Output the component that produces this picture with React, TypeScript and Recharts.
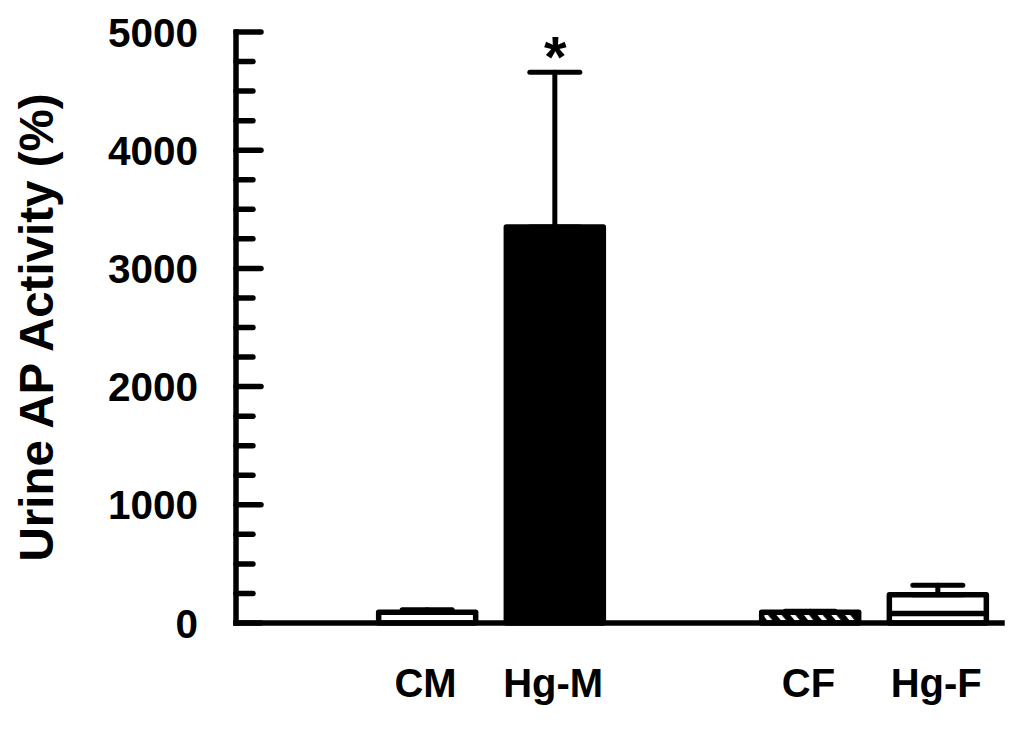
import React from 'react';
import { BarChart, Bar, XAxis, YAxis, ErrorBar, Cell, ReferenceDot, Label } from 'recharts';

const categories = [' ', 'CM', 'Hg-M', '  ', 'CF', 'Hg-F'];
const meanValues: (number | null)[] = [null, 90, 3350, null, 90, 240];
const upperErrors: (number | null)[] = [null, 22, 1310, null, 10, 80];
const innerDividers: (number | null)[] = [null, null, null, null, null, 80];
const barFills = ['none', '#ffffff', '#000000', 'none', 'url(#cfHatch)', '#ffffff'];
const yTickValues = [0, 250, 500, 750, 1000, 1250, 1500, 1750, 2000, 2250, 2500, 2750, 3000, 3250, 3500, 3750, 4000, 4250, 4500, 4750, 5000];
const yLabeledTicks = [0, 1000, 2000, 3000, 4000, 5000];
const significantCategory = 'Hg-M';
const significanceMark = '*';
const yTitle = 'Urine AP Activity (%)';

const FONT = '"Liberation Sans", Arial, Helvetica, sans-serif';

const data = categories.map((name, i) => ({
  name,
  value: meanValues[i],
  err: upperErrors[i] == null ? undefined : [0, upperErrors[i] as number],
  inner: innerDividers[i],
}));

const sigIndex = categories.indexOf(significantCategory);
const sigY = (meanValues[sigIndex] as number) + (upperErrors[sigIndex] as number);

const YTick = (props: any) => {
  const { x, y, payload } = props;
  const v = payload.value as number;
  const major = yLabeledTicks.includes(v);
  return (
    <g>
      <line x1={x} x2={x + (major ? 25 : 17)} y1={y} y2={y} stroke="#000" strokeWidth={5.5} strokeLinecap="round" />
      {major && (
        <text x={x - 38} y={y} dy="0.36em" textAnchor="end" fontFamily={FONT} fontWeight="bold" fontSize={40.5} fill="#000">
          {String(v)}
        </text>
      )}
    </g>
  );
};

const XTick = (props: any) => {
  const { x, y, payload } = props;
  return (
    <text x={x - 2} y={y + 74} textAnchor="middle" fontFamily={FONT} fontWeight="bold" fontSize={40} fill="#000">
      {payload.value}
    </text>
  );
};

const BarShape = (props: any) => {
  const { x, y, width, height, fill, payload } = props;
  if (height == null || width == null || payload.value == null) return null;
  const inner = payload.inner as number | null;
  const innerY = inner != null ? y + height * (1 - inner / payload.value) : null;
  return (
    <g>
      <rect x={x} y={y} width={width} height={height} fill={fill} stroke="#000" strokeWidth={5.5} strokeLinejoin="round" />
      {innerY != null && (
        <line x1={x} x2={x + width} y1={innerY} y2={innerY} stroke="#000" strokeWidth={5.5} />
      )}
    </g>
  );
};

const TitleLabel = (props: any) => {
  const vb = props.viewBox || { x: 0, y: 32, width: 236, height: 591 };
  const cx = vb.x + 53;
  const cy = vb.y + vb.height / 2;
  return (
    <text x={cx} y={cy} transform={`rotate(-90, ${cx}, ${cy})`} textAnchor="middle" fontFamily={FONT} fontWeight="bold" fontSize={47.5} fill="#000">
      {yTitle}
    </text>
  );
};

const StarShape = (props: any) => {
  const { cx, cy } = props;
  return (
    <text x={cx} y={cy + 5} textAnchor="middle" fontFamily={FONT} fontWeight="bold" fontSize={58} fill="#000">
      {significanceMark}
    </text>
  );
};

export default function App() {
  return (
    <div style={{ position: 'absolute', left: 0, top: 0, background: '#fff' }}>
      <BarChart width={1024} height={731} data={data} margin={{ top: 32, right: 22, bottom: 0, left: 0 }} barSize={97}>
        <defs>
          <pattern id="cfHatch" patternUnits="userSpaceOnUse" width="10.5" height="10.5" patternTransform="rotate(-40)">
            <rect x="0" y="0" width="10.5" height="10.5" fill="#000" />
            <rect x="0" y="0" width="4" height="10.5" fill="#fff" />
          </pattern>
        </defs>
        <XAxis
          dataKey="name"
          type="category"
          height={108}
          axisLine={{ stroke: '#000', strokeWidth: 5.5, strokeLinecap: 'square' }}
          tickLine={false}
          tickSize={0}
          tickMargin={0}
          interval={0}
          tick={<XTick />}
        />
        <YAxis
          type="number"
          domain={[0, 5000]}
          ticks={yTickValues}
          interval={0}
          width={236}
          axisLine={{ stroke: '#000', strokeWidth: 5.5, strokeLinecap: 'square' }}
          tickLine={false}
          tickSize={0}
          tickMargin={0}
          tick={<YTick />}
        >
          <Label content={<TitleLabel />} />
        </YAxis>
        <Bar dataKey="value" isAnimationActive={false} shape={<BarShape />}>
          {data.map((d, i) => (
            <Cell key={i} fill={barFills[i]} />
          ))}
          <ErrorBar dataKey="err" width={25} stroke="#000" strokeWidth={5} strokeLinecap="round" direction="y" />
        </Bar>
        <ReferenceDot x={significantCategory} y={sigY} r={0} shape={<StarShape />} isFront />
      </BarChart>
    </div>
  );
}
